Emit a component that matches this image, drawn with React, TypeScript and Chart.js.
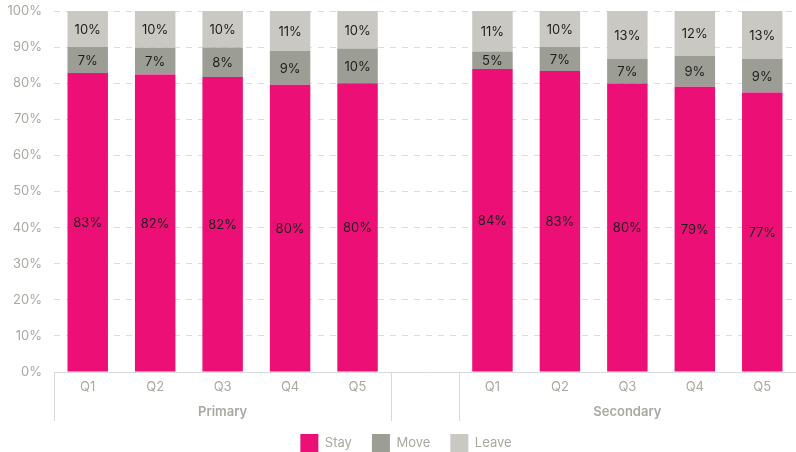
import React, { useEffect, useRef } from "react";
import { Chart, registerables } from "chart.js";

Chart.register(...registerables);

const categories = ["Q1", "Q2", "Q3", "Q4", "Q5", "", "Q1", "Q2", "Q3", "Q4", "Q5"];
const groups = ["Primary", "Secondary"];
const groupRanges = [[0, 4], [6, 10]];
const stay = [82.8, 82.4, 81.7, 79.6, 80.0, null, 83.9, 83.4, 79.9, 79.0, 77.4];
const move = [7.2, 7.4, 8.2, 9.3, 9.6, null, 4.9, 6.6, 6.9, 8.6, 9.4];
const leave = [10.0, 10.2, 10.1, 11.1, 10.4, null, 11.2, 10.0, 13.2, 12.4, 13.2];
const yTicks = [0, 10, 20, 30, 40, 50, 60, 70, 80, 90, 100];

const FONT = "Inter, 'Noto Sans', sans-serif";
const GRAY = "#a9a9a1";

const labelPlugin = {
  id: "segLabels",
  afterDatasetsDraw(chart: any) {
    const ctx = chart.ctx;
    ctx.save();
    ctx.font = `13px ${FONT}`;
    ctx.fillStyle = "#1e1e1e";
    ctx.textAlign = "center";
    ctx.textBaseline = "middle";
    chart.data.datasets.forEach((ds: any, di: number) => {
      const meta = chart.getDatasetMeta(di);
      meta.data.forEach((el: any, i: number) => {
        const v = ds.data[i];
        if (v == null) return;
        const { x, y, base } = el.getProps(["x", "y", "base"], true);
        ctx.fillText(Math.round(v) + "%", x, (y + base) / 2 + 1);
      });
    });
    ctx.restore();
  },
};

const groupPlugin = {
  id: "groupAxis",
  afterLayout(chart: any) {
    if (chart.legend) {
      chart.legend.left += 8;
      chart.legend.right += 8;
    }
  },
  afterDraw(chart: any) {
    const ctx = chart.ctx;
    const xs = chart.scales.x;
    const half = (xs.getPixelForValue(1) - xs.getPixelForValue(0)) / 2;
    const top = xs.top;
    ctx.save();
    ctx.strokeStyle = "#d9d9d9";
    ctx.lineWidth = 1;
    const bounds = [0, 5, 6];
    bounds.forEach((b) => {
      const px = Math.round(xs.getPixelForValue(b) - half) + 0.5;
      ctx.beginPath();
      ctx.moveTo(px, top);
      ctx.lineTo(px, top + 49);
      ctx.stroke();
    });
    ctx.font = `600 13px ${FONT}`;
    ctx.fillStyle = GRAY;
    ctx.textAlign = "center";
    ctx.textBaseline = "middle";
    groups.forEach((g, gi) => {
      const [a, b] = groupRanges[gi];
      const cx = (xs.getPixelForValue(a) + xs.getPixelForValue(b)) / 2;
      ctx.fillText(g, cx, top + 40);
    });
    ctx.restore();
  },
};

export default function App() {
  const ref = useRef<HTMLCanvasElement | null>(null);
  useEffect(() => {
    document.body.style.margin = "0";
    const chart = new Chart(ref.current!, {
      type: "bar",
      data: {
        labels: categories,
        datasets: [
          { label: "Stay", data: stay, backgroundColor: "#ec1076" },
          { label: "Move", data: move, backgroundColor: "#9c9d94" },
          { label: "Leave", data: leave, backgroundColor: "#c9c8c2" },
        ],
      },
      options: {
        animation: false,
        responsive: false,
        layout: { padding: { top: 11, right: 0, left: 0, bottom: -10 } },
        datasets: { bar: { barPercentage: 0.6, categoryPercentage: 1 } } as any,
        plugins: {
          tooltip: { enabled: false },
          legend: {
            position: "bottom",
            labels: {
              boxWidth: 18,
              boxHeight: 18,
              padding: 20,
              color: GRAY,
              font: { family: FONT, size: 13 },
            },
          },
        },
        scales: {
          x: {
            stacked: true,
            grid: { display: false, drawTicks: false },
            border: { display: true, color: "#d9d9d9" },
            ticks: { color: GRAY, padding: 7, font: { family: FONT, size: 13 } },
            afterFit: (s: any) => {
              s.height = 42;
            },
          },
          y: {
            stacked: true,
            min: 0,
            max: 100,
            afterBuildTicks: (s: any) => {
              s.ticks = yTicks.map((v) => ({ value: v }));
            },
            afterFit: (s: any) => {
              s.width = 54;
              s.paddingTop = 0;
              s.paddingBottom = 0;
            },
            grid: { color: "#dcdcdc", drawTicks: false },
            border: { display: false, dash: [6, 6] },
            ticks: {
              color: GRAY,
              padding: 12,
              font: { family: FONT, size: 13 },
              callback: (v: any) => v + "%",
            },
          },
        },
      },
      plugins: [labelPlugin, groupPlugin],
    });
    return () => chart.destroy();
  }, []);
  return <canvas ref={ref} width={796} height={452} style={{ display: "block" }} />;
}
